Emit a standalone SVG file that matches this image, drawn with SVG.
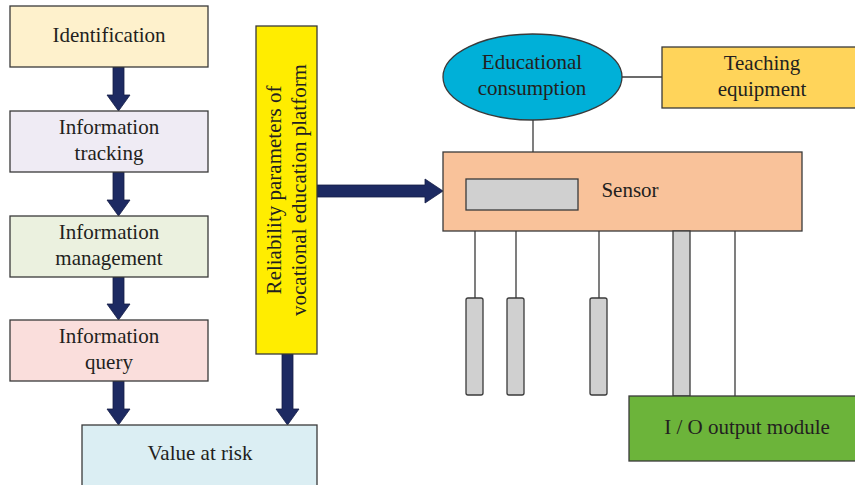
<svg xmlns="http://www.w3.org/2000/svg" width="855" height="485" viewBox="0 0 855 485">
  <style>
    .box { stroke: #3a3a3a; stroke-width: 1.3; }
    .lbl { font-family: "Liberation Serif", "Times New Roman", serif; font-size: 21px; fill: #231f20; text-anchor: middle; }
    .arrow { fill: #1d2a62; stroke: #141c44; stroke-width: 0.8; }
    .wire { stroke: #3a3a3a; stroke-width: 1.3; fill: none; }
    .probe { fill: #d0d0d0; stroke: #3a3a3a; stroke-width: 1.3; }
  </style>
  <rect width="855" height="485" fill="#ffffff"/>

  <!-- connectors -->
  <g id="connectors">
    <polygon class="arrow" points="113,67 124,67 124,95 130,95 118.5,111 107,95 113,95"/>
    <polygon class="arrow" points="113,172 124,172 124,200 130,200 118.5,216 107,200 113,200"/>
    <polygon class="arrow" points="113,277 124,277 124,304 130,304 118.5,320 107,304 113,304"/>
    <polygon class="arrow" points="113,381 124,381 124,409 130,409 118.5,425 107,409 113,409"/>
    <polygon class="arrow" points="282,354 293,354 293,409 299,409 287.5,425 276,409 282,409"/>
    <polygon class="arrow" points="317,185 425,185 425,179 443,191 425,203 425,197 317,197"/>
    <line class="wire" x1="533" y1="120" x2="533" y2="152"/>
    <line class="wire" x1="622" y1="77" x2="662" y2="77"/>
    <line class="wire" x1="475" y1="231" x2="475" y2="298"/>
    <line class="wire" x1="516" y1="231" x2="516" y2="298"/>
    <line class="wire" x1="599" y1="231" x2="599" y2="298"/>
    <line class="wire" x1="735" y1="231" x2="735" y2="396"/>
  </g>

  <g id="identification">
    <rect class="box" x="10" y="6" width="198" height="61" fill="#fef1cc"/>
    <text class="lbl" x="109" y="42">Identification</text>
  </g>
  <g id="information-tracking">
    <rect class="box" x="10" y="111" width="198" height="61" fill="#efebf4"/>
    <text class="lbl" x="109" y="134">Information</text>
    <text class="lbl" x="109" y="160">tracking</text>
  </g>
  <g id="information-management">
    <rect class="box" x="10" y="216" width="198" height="61" fill="#ebf1df"/>
    <text class="lbl" x="109" y="239">Information</text>
    <text class="lbl" x="109" y="265">management</text>
  </g>
  <g id="information-query">
    <rect class="box" x="10" y="320" width="198" height="61" fill="#fadedc"/>
    <text class="lbl" x="109" y="343">Information</text>
    <text class="lbl" x="109" y="369">query</text>
  </g>
  <g id="value-at-risk">
    <rect class="box" x="82" y="425" width="235" height="70" fill="#dbeef3"/>
    <text class="lbl" x="200" y="460">Value at risk</text>
  </g>
  <g id="reliability">
    <rect class="box" x="256" y="26" width="61" height="328" fill="#ffed00"/>
    <text class="lbl" transform="translate(281,190) rotate(-90)">Reliability parameters of</text>
    <text class="lbl" transform="translate(306,190) rotate(-90)">vocational education platform</text>
  </g>
  <g id="educational-consumption">
    <ellipse class="box" cx="532.5" cy="77" rx="89.5" ry="43" fill="#00b0d8"/>
    <text class="lbl" x="532" y="69">Educational</text>
    <text class="lbl" x="532" y="95">consumption</text>
  </g>
  <g id="teaching-equipment">
    <rect class="box" x="662" y="47" width="200" height="61" fill="#ffd45a"/>
    <text class="lbl" x="762" y="70">Teaching</text>
    <text class="lbl" x="762" y="96">equipment</text>
  </g>
  <g id="sensor">
    <rect class="box" x="443" y="152" width="359" height="79" fill="#f9c29a"/>
    <rect class="box" x="466" y="179" width="112" height="31" fill="#d0d0d0"/>
    <text class="lbl" x="630" y="197">Sensor</text>
  </g>
  <g id="probes">
    <rect class="probe" x="466" y="298" width="17" height="97" rx="2"/>
    <rect class="probe" x="507" y="298" width="17" height="97" rx="2"/>
    <rect class="probe" x="590" y="298" width="17" height="97" rx="2"/>
    <rect class="probe" x="673" y="231" width="17" height="165"/>
  </g>
  <g id="io-output-module">
    <rect class="box" x="629" y="396" width="240" height="65" fill="#6cb43a"/>
    <text class="lbl" x="747" y="434">I / O output module</text>
  </g>
</svg>
